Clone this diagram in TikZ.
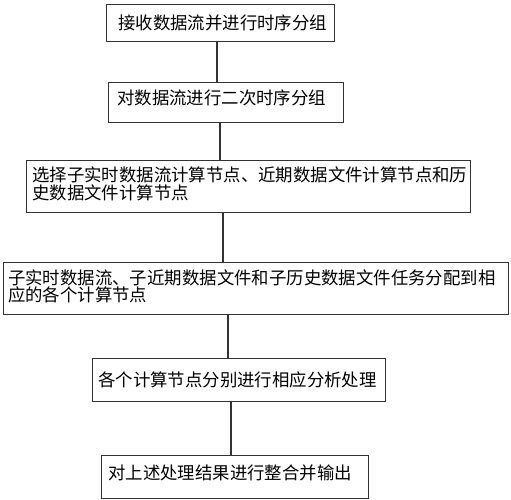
\documentclass[tikz,border=0pt]{standalone}
\usepackage{fontspec}
\setmainfont{Noto Sans CJK SC}
\begin{document}
\begin{tikzpicture}[x=1pt,y=-1pt,
  box/.style={draw=black!80, line width=1.3pt, inner sep=0pt},
  lbl/.style={inner sep=0pt, anchor=west, align=left, font=\fontsize{17.4}{17.5}\selectfont, text=black},
  conn/.style={draw=black!80, line width=1.3pt}]
\useasboundingbox (0,0) rectangle (511,500);
% boxes
\node[box, minimum width=228pt, minimum height=37pt, anchor=north west] (b1) at (106,4) {};
\node[box, minimum width=235pt, minimum height=40pt, anchor=north west] (b2) at (108,82) {};
\node[box, minimum width=444pt, minimum height=52pt, anchor=north west] (b3) at (26,160) {};
\node[box, minimum width=505pt, minimum height=52pt, anchor=north west] (b4) at (3,262) {};
\node[box, minimum width=293pt, minimum height=43pt, anchor=north west] (b5) at (92,358) {};
\node[box, minimum width=267pt, minimum height=43pt, anchor=north west] (b6) at (101,455) {};
% labels
\node[lbl] (t1) at (118,23) {接收数据流并进行时序分组};
\node[lbl] (t2) at (117,98) {对数据流进行二次时序分组};
\node[lbl] (t3) at (32,184) {选择子实时数据流计算节点、近期数据文件计算节点和历\\史数据文件计算节点};
\node[lbl] (t4) at (8,286.5) {子实时数据流、子近期数据文件和子历史数据文件任务分配到相\\应的各个计算节点};
\node[lbl] (t5) at (98,380) {各个计算节点分别进行相应分析处理};
\node[lbl] (t6) at (108,473) {对上述处理结果进行整合并输出};
% connectors
\coordinate (c1) at (217,0);
\coordinate (c2) at (220,0);
\coordinate (c3) at (223,0);
\coordinate (c4) at (228,0);
\coordinate (c5) at (231,0);
\draw[conn] (b1.south -| c1) -- (b2.north -| c1);
\draw[conn] (b2.south -| c2) -- (b3.north -| c2);
\draw[conn] (b3.south -| c3) -- (b4.north -| c3);
\draw[conn] (b4.south -| c4) -- (b5.north -| c4);
\draw[conn] (b5.south -| c5) -- (b6.north -| c5);
\end{tikzpicture}
\end{document}
